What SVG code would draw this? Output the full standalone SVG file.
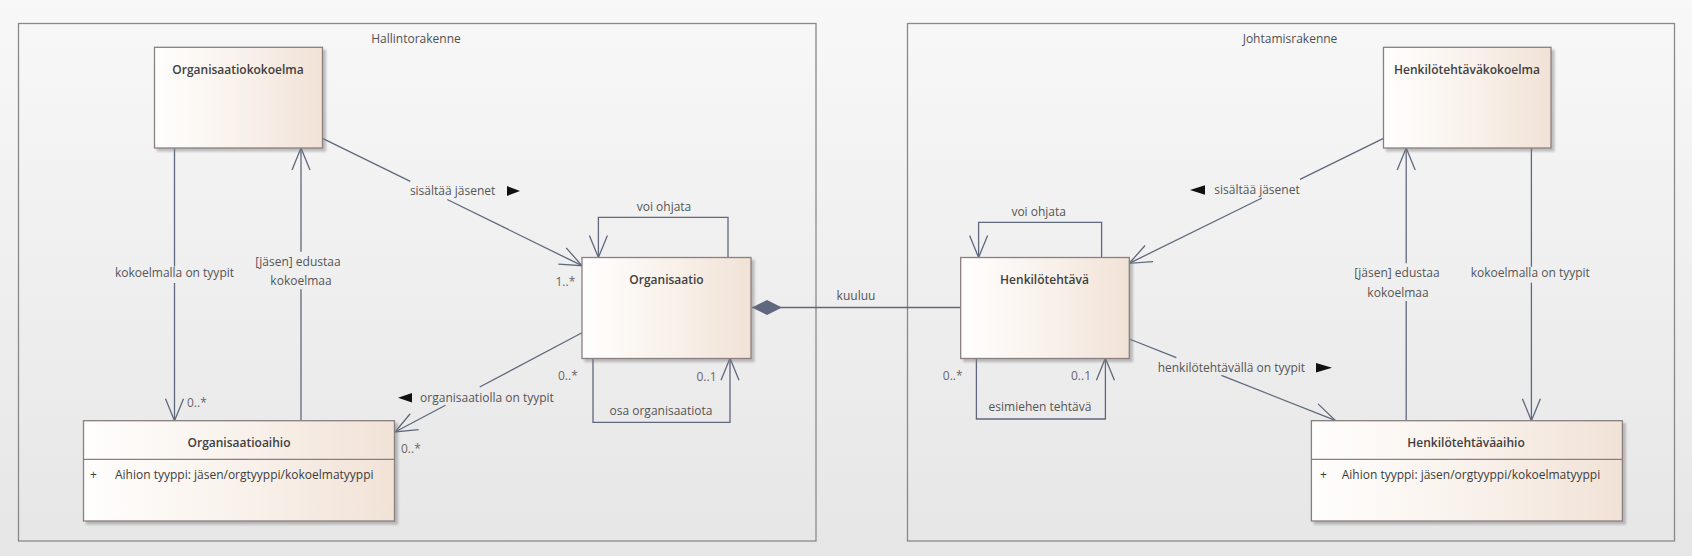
<svg xmlns="http://www.w3.org/2000/svg" width="1692" height="556" viewBox="0 0 1692 556">
<defs>
<linearGradient id="bg" x1="0" y1="0" x2="0" y2="1">
<stop offset="0" stop-color="#f8f8f8"/>
<stop offset="1" stop-color="#e6e6e6"/>
</linearGradient>
<linearGradient id="boxfill" x1="0" y1="0" x2="1" y2="0">
<stop offset="0" stop-color="#fffefd"/>
<stop offset="0.5" stop-color="#f9f2ec"/>
<stop offset="1" stop-color="#f1e2d6"/>
</linearGradient>
<filter id="shadow" x="-10%" y="-10%" width="130%" height="130%">
<feDropShadow dx="3" dy="3" stdDeviation="1.2" flood-color="#7a7a7a" flood-opacity="0.45"/>
</filter>
<marker id="open" markerUnits="userSpaceOnUse" markerWidth="30" markerHeight="24" viewBox="-26 -12 30 24" refX="0" refY="0" orient="auto" overflow="visible">
<path d="M-22,-9 L0,0 L-22,9" fill="none" stroke="#5f687c" stroke-width="1.3"/>
</marker>
<marker id="diamond" markerUnits="userSpaceOnUse" markerWidth="32" markerHeight="18" viewBox="0 -9 32 18" refX="0" refY="0" orient="auto" overflow="visible">
<path d="M0,0 L15,-7.5 L30,0 L15,7.5 Z" fill="#5f687c"/>
</marker>
<style>
.frame{fill:none;stroke:#8c8888;stroke-width:1.3}
.box{fill:url(#boxfill);stroke:#8a7f80;stroke-width:1.3;filter:url(#shadow)}
.div{stroke:#8a7f80;stroke-width:1.3}
.ttl{font-family:"Open Sans","Noto Sans",sans-serif;font-size:12px;font-weight:600;fill:#404040;text-anchor:middle}
.attr{font-family:"Open Sans","Noto Sans",sans-serif;font-size:12px;fill:#3c3c3c}
.lbl{font-family:"Open Sans","Noto Sans",sans-serif;font-size:12px;fill:#555555;text-anchor:middle}
.ftl{font-family:"Open Sans","Noto Sans",sans-serif;font-size:12px;fill:#505050;text-anchor:middle}
.mul{font-family:"Open Sans","Noto Sans",sans-serif;font-size:12px;fill:#6a6464}
.c{fill:none;stroke:#5f687c;stroke-width:1.3}
.arr{marker-end:url(#open)}
.sig{fill:#111111}
</style>
</defs>
<rect x="0" y="0" width="1692" height="556" fill="url(#bg)"/>

<g id="frame-hallintorakenne">
<rect class="frame" x="18.5" y="23.5" width="797.5" height="517.5"/>
<text class="ftl" x="416" y="42.5">Hallintorakenne</text>
</g>
<g id="frame-johtamisrakenne">
<rect class="frame" x="907.5" y="23.5" width="767" height="517.5"/>
<text class="ftl" x="1290" y="42.5">Johtamisrakenne</text>
</g>

<g id="connectors">
<!-- kokoelmalla on tyypit (left) -->
<path class="c" d="M174.5,148 V266.5"/>
<path class="c arr" d="M174.5,283 V420.7"/>
<text class="lbl" x="174.5" y="277">kokoelmalla on tyypit</text>
<text class="mul" x="187" y="407">0..*</text>
<!-- [jäsen] edustaa kokoelmaa (left) -->
<path class="c" d="M301,420.7 V289.3"/>
<path class="c arr" d="M301,251.7 V148"/>
<text class="lbl" x="298" y="265.7">[jäsen] edustaa</text>
<text class="lbl" x="301" y="284.7">kokoelmaa</text>
<!-- sisältää jäsenet (left) -->
<path class="c" d="M322.5,138.3 L410.3,181.4"/>
<path class="c arr" d="M447.2,199.5 L582,265.7"/>
<text class="lbl" x="452.6" y="195">sisältää jäsenet</text>
<polygon class="sig" points="507,186 520,191 507,196"/>
<text class="mul" x="555.5" y="286">1..*</text>
<!-- voi ohjata (Organisaatio) -->
<path class="c arr" d="M728,257.5 V217.3 H598.4 V257.5"/>
<text class="lbl" x="664" y="210.7">voi ohjata</text>
<!-- osa organisaatiota -->
<path class="c arr" d="M593,358.3 V422.3 H730 V358.3"/>
<text class="lbl" x="661" y="415">osa organisaatiota</text>
<text class="mul" x="558" y="380">0..*</text>
<text class="mul" x="696.5" y="380.5">0..1</text>
<!-- organisaatiolla on tyypit -->
<path class="c" d="M582,332.7 L479.7,387"/>
<path class="c arr" d="M445.5,405.2 L395,432"/>
<text class="lbl" x="487" y="401.7">organisaatiolla on tyypit</text>
<polygon class="sig" points="412,393 398,397.7 412,402.5"/>
<text class="mul" x="401" y="453">0..*</text>
<!-- kuuluu -->
<path class="c" d="M752,307.5 H960.7" marker-start="url(#diamond)"/>
<text class="lbl" x="856" y="300">kuuluu</text>
<!-- sisältää jäsenet (right) -->
<path class="c" d="M1383.5,138.3 L1300,179.4"/>
<path class="c arr" d="M1262,198 L1129.3,263.3"/>
<text class="lbl" x="1257" y="194">sisältää jäsenet</text>
<polygon class="sig" points="1205,185.3 1190,190 1205,194.7"/>
<!-- voi ohjata (Henkilötehtävä) -->
<path class="c arr" d="M1101.6,257.5 V222.3 H978.6 V257.5"/>
<text class="lbl" x="1038.7" y="215.7">voi ohjata</text>
<!-- [jäsen] edustaa kokoelmaa (right) -->
<path class="c" d="M1406.2,420.7 V301"/>
<path class="c arr" d="M1406.2,263.3 V148"/>
<text class="lbl" x="1397" y="277.3">[jäsen] edustaa</text>
<text class="lbl" x="1398" y="296.7">kokoelmaa</text>
<!-- kokoelmalla on tyypit (right) -->
<path class="c" d="M1531.4,148 V266.7"/>
<path class="c arr" d="M1531.4,282.7 V420.7"/>
<text class="lbl" x="1530.3" y="277.3">kokoelmalla on tyypit</text>
<!-- henkilötehtävällä on tyypit -->
<path class="c" d="M1129.3,339 L1176.4,357.6"/>
<path class="c arr" d="M1221.4,375.4 L1335.2,420.3"/>
<text class="lbl" x="1231.4" y="371.7">henkilötehtävällä on tyypit</text>
<polygon class="sig" points="1316,363 1332,367.7 1316,372.5"/>
<!-- esimiehen tehtävä -->
<path class="c arr" d="M976.4,358.3 V419 H1105.4 V358.3"/>
<text class="lbl" x="1040" y="411.3">esimiehen tehtävä</text>
<text class="mul" x="942.8" y="380">0..*</text>
<text class="mul" x="1071" y="380">0..1</text>
</g>

<g id="node-organisaatiokokoelma">
<rect class="box" x="154.5" y="47.3" width="168" height="100.7"/>
<text class="ttl" x="238" y="74">Organisaatiokokoelma</text>
</g>
<g id="node-organisaatio">
<rect class="box" x="582" y="257.5" width="169" height="101"/>
<text class="ttl" x="666.5" y="284">Organisaatio</text>
</g>
<g id="node-organisaatioaihio">
<rect class="box" x="83.5" y="420.7" width="311" height="100.3"/>
<line class="div" x1="83.5" y1="459.3" x2="394.5" y2="459.3"/>
<text class="ttl" x="239" y="447">Organisaatioaihio</text>
<text class="attr" x="90" y="479">+</text>
<text class="attr" x="115" y="479">Aihion tyyppi: jäsen/orgtyyppi/kokoelmatyyppi</text>
</g>
<g id="node-henkilotehtavakokoelma">
<rect class="box" x="1383.5" y="47.3" width="167.5" height="100.7"/>
<text class="ttl" x="1467" y="74">Henkilötehtäväkokoelma</text>
</g>
<g id="node-henkilotehtava">
<rect class="box" x="960.7" y="257.5" width="168.6" height="101"/>
<text class="ttl" x="1044.5" y="283.5">Henkilötehtävä</text>
</g>
<g id="node-henkilotehtavaaihio">
<rect class="box" x="1311.4" y="420.7" width="311" height="100.3"/>
<line class="div" x1="1311.4" y1="459.3" x2="1622.4" y2="459.3"/>
<text class="ttl" x="1466" y="447">Henkilötehtäväaihio</text>
<text class="attr" x="1320" y="479">+</text>
<text class="attr" x="1341.7" y="479">Aihion tyyppi: jäsen/orgtyyppi/kokoelmatyyppi</text>
</g>
</svg>
